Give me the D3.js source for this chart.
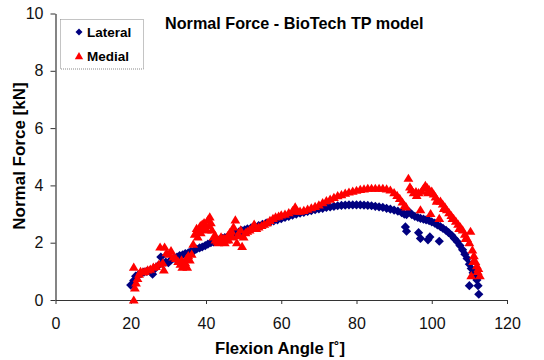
<!doctype html>
<html lang="en">
  <head>
    <meta charset="utf-8">
    <title>Normal Force - BioTech TP model</title>
    <style>
      body { margin: 0; background: #fff; }
      svg { display: block; font-family: "Liberation Sans", Arial, sans-serif; }
      .axis path, .axis line { stroke: #333; }
      .axis text { font-size: 16px; fill: #111; }
    </style>
    <script src="https://cdn.jsdelivr.net/npm/d3@7"></script>
  </head>
  <body>
    <svg id="chart" width="544" height="360"></svg>
    <script>
      // values
      const xTicks = [0, 20, 40, 60, 80, 100, 120];
      const yTicks = [0, 2, 4, 6, 8, 10];
      const seriesNames = ["Lateral", "Medial"];

      const lateralAngle = [20.0, 20.8, 21.3, 22.0, 22.7, 23.5, 24.3, 25.0, 25.8, 26.5, 27.3, 28.0, 28.5, 29.3, 30.0,
        30.7, 31.5, 32.3, 33.0, 33.8, 34.5, 35.3, 36.0, 36.8, 37.5, 38.3, 39.0, 39.8, 40.5, 41.3, 42.0, 42.8,
        43.5, 44.3, 45.0, 45.8, 46.5, 47.3, 48.0, 48.8, 49.5, 50.3, 51.0, 52, 53, 54, 55, 56, 57, 58, 59, 60,
        61, 62, 63, 64, 65, 66, 67, 68, 69, 70, 71, 72, 73, 74, 75, 76, 77, 78, 79, 80, 81, 82, 83, 84, 85, 86,
        87, 88, 89, 90, 91, 92, 92.7, 93.3, 94.0, 94.7, 95.5, 96.3, 97.0, 97.8, 98.5, 99.3, 100.0, 100.8,
        101.5, 102.3, 103.0, 103.8, 104.5, 105.3, 106.0, 106.8, 107.5, 108.2, 108.8, 109.4, 110.0, 110.5,
        111.0, 111.5, 112.0,
        93.0, 93.3, 96.5, 97.0, 99.0, 99.5, 102.0, 110.0, 112.3, 112.5, 111.8];
      const lateralForce = [0.52, 0.68, 0.83, 0.88, 0.92, 0.97, 1.0, 1.02, 0.9, 1.1, 1.2, 1.5, 1.28, 1.32, 1.3,
        1.4, 1.45, 1.5, 1.55, 1.58, 1.62, 1.65, 1.7, 1.72, 1.78, 1.82, 1.85, 1.9, 1.95, 2.0, 2.03, 2.07,
        2.1, 2.15, 2.18, 2.22, 2.26, 2.3, 2.34, 2.38, 2.42, 2.45, 2.48, 2.52, 2.56, 2.6, 2.64, 2.68, 2.72, 2.76, 2.8, 2.84,
        2.88, 2.92, 2.96, 3.0, 3.03, 3.06, 3.09, 3.12, 3.15, 3.18, 3.2, 3.23, 3.25, 3.27, 3.29, 3.3, 3.31, 3.32, 3.32, 3.32, 3.32, 3.31, 3.3, 3.29, 3.27, 3.25,
        3.23, 3.2, 3.17, 3.14, 3.1, 3.05, 3.0, 2.98, 3.08, 2.98, 2.92, 2.88, 2.85, 2.82, 2.8, 2.77, 2.73, 2.68,
        2.62, 2.56, 2.5, 2.43, 2.35, 2.26, 2.15, 2.03, 1.9, 1.75, 1.6, 1.45, 1.25, 1.1,
        0.95, 0.85, 0.7,
        2.55, 2.4, 2.35, 2.15, 2.1, 2.2, 2.05, 0.5, 0.5, 0.2, 1.0];

      const medialAngle = [20.8, 20.8, 21.1, 21.4, 21.8, 22.2, 22.6, 23.2, 23.8, 24.5, 25.2, 26.0, 26.7, 27.5, 27.8,
        28.5, 28.8, 29.0, 29.5, 30.2, 30.7, 31.3, 32.0, 32.6, 33.2, 33.7, 34.3, 34.8, 35.3, 35.7, 36.2, 36.6,
        37.0, 37.5, 38.0, 38.5, 39.0, 39.5, 40.0, 40.5, 41.0, 41.3, 41.6, 42.0, 42.5, 43.0, 43.6, 44.2, 44.8,
        45.3, 45.8, 46.3, 46.8, 47.3, 47.8, 48.2, 48.6, 49.2, 49.6, 50.0, 50.5, 51.0, 51.6, 52.2, 52.8, 53.4,
        54.0, 54.8, 55.5, 56.3, 57.0, 57.8, 58.5, 59.3, 60, 61, 62, 63, 63.7, 64.3, 65, 66, 67, 68, 69, 70,
        71, 72, 73, 74, 75, 76, 77, 78, 79, 80, 81, 82, 83, 84, 85, 86, 87, 88, 89, 90, 90.8, 91.5, 92.2, 92.8,
        93.2, 93.8, 94.2, 94.6, 95.2, 95.8, 96.5, 97.0, 97.3, 97.8, 98.3, 98.8, 99.3, 99.7, 100.0, 100.5,
        101.0, 101.5, 102.0, 102.3, 102.9, 103.5, 104.0, 104.6, 105.2, 105.8, 106.4, 107.0, 107.6, 108.2,
        108.8, 109.4, 110.0, 110.3, 110.5, 110.8, 111.2, 111.6, 112.0, 112.4, 112.8,
        33.5, 34.5, 35.0, 37.8, 38.6, 39.3, 40.2, 40.8, 42.5, 43.3, 44.0, 45.0, 46.0, 47.0, 48.5,
        96.0, 99.0, 101.3, 103.2, 105.5, 107.3, 109.0, 111.0, 112.2];
      const medialForce = [0.0, 1.15, 0.42, 0.6, 0.75, 0.9, 1.0, 0.98, 1.0, 1.05, 1.08, 1.15, 1.17, 1.25, 1.85,
        1.3, 1.05, 1.85, 1.65, 1.6, 1.72, 1.5, 1.45, 1.35, 1.25, 1.15, 1.2, 1.45, 1.55, 1.4, 1.6, 1.95,
        2.3, 2.5, 2.45, 2.6, 2.65, 2.7, 2.6, 2.8, 2.9, 2.7, 2.45, 2.2, 2.1, 2.05, 2.1, 2.05, 2.15,
        2.1, 2.25, 2.35, 2.4, 2.55, 2.8, 2.0, 2.3, 2.45, 1.87, 2.2, 2.35, 2.4, 2.45, 2.5, 2.65, 2.5,
        2.55, 2.6, 2.65, 2.7, 2.78, 2.85, 2.9, 2.93, 2.97, 3.0, 3.05, 3.12, 3.25, 3.1, 3.1, 3.13, 3.17, 3.22, 3.27, 3.32,
        3.4, 3.47, 3.52, 3.58, 3.64, 3.68, 3.73, 3.77, 3.8, 3.83, 3.86, 3.88, 3.9, 3.9, 3.9, 3.9, 3.9, 3.88, 3.84, 3.75, 3.65, 3.55, 3.42, 3.3,
        3.25, 4.25, 3.95, 3.85, 3.75, 3.78, 3.75, 3.15, 3.8, 3.9, 4.0, 3.92, 3.85, 3.02, 3.8, 3.7,
        3.6, 3.5, 2.85, 3.45, 3.35, 3.25, 3.15, 3.05, 2.95, 2.85, 2.75, 2.65, 2.55, 2.45,
        2.3, 2.15, 2.0, 2.4, 0.85, 1.75, 1.55, 1.35, 1.2, 1.1, 0.85,
        1.4, 1.3, 1.15, 2.2, 2.35, 2.5, 2.45, 2.6, 2.25, 2.0, 2.2, 2.0, 2.1, 2.2, 2.25,
        3.65, 3.75, 3.45, 3.2, 2.85, 2.5, 2.15, 1.35, 1.0];

      const lateral = lateralAngle.map((a, i) => ({ angle: a, force: lateralForce[i] }));
      const medial = medialAngle.map((a, i) => ({ angle: a, force: medialForce[i] }));

      const diamond = "M0,-4.6L4.6,0L0,4.6L-4.6,0Z";
      const triangle = "M0,-4.6L4.9,3.6L-4.9,3.6Z";

      const svg = d3.select("#chart");
      const x = d3.scaleLinear().domain([0, 120]).range([55.5, 507]);
      const y = d3.scaleLinear().domain([0, 10]).range([300, 13.5]);

      svg.append("g")
        .attr("class", "axis")
        .attr("transform", "translate(0,300)")
        .call(d3.axisBottom(x).tickValues(xTicks).tickSize(4).tickSizeOuter(0).tickPadding(14))
        .call((g) => g.select(".domain").attr("stroke-width", 1.2));

      svg.append("g")
        .attr("class", "axis")
        .attr("transform", "translate(55.5,0)")
        .call(d3.axisLeft(y).tickValues(yTicks).tickSize(5).tickSizeOuter(0).tickPadding(7))
        .call((g) => g.select(".domain").attr("stroke-width", 1.2));

      svg.append("g")
        .selectAll("path")
        .data(lateral)
        .join("path")
        .attr("d", diamond)
        .attr("transform", (d) => `translate(${x(d.angle)},${y(d.force)})`)
        .attr("fill", "#000080");

      svg.append("g")
        .selectAll("path")
        .data(medial)
        .join("path")
        .attr("d", triangle)
        .attr("transform", (d) => `translate(${x(d.angle)},${y(d.force)})`)
        .attr("fill", "#ff0000");

      svg.append("text")
        .attr("x", 165)
        .attr("y", 29)
        .attr("font-size", 16.2)
        .attr("font-weight", "bold")
        .text("Normal Force - BioTech TP model");

      svg.append("text")
        .attr("x", 280)
        .attr("y", 354)
        .attr("text-anchor", "middle")
        .attr("font-size", 16.7)
        .attr("font-weight", "bold")
        .text("Flexion Angle [˚]");

      svg.append("text")
        .attr("transform", "translate(25,156) rotate(-90)")
        .attr("text-anchor", "middle")
        .attr("font-size", 17)
        .attr("font-weight", "bold")
        .text("Normal Force [kN]");

      // legend
      const legend = svg.append("g");
      legend.append("rect")
        .attr("x", 60.5).attr("y", 19.5).attr("width", 83).attr("height", 49.5)
        .attr("fill", "#fff").attr("stroke", "#888").attr("stroke-dasharray", "1,1");
      legend.selectAll("path")
        .data(seriesNames)
        .join("path")
        .attr("d", (d, i) => (i === 0 ? "M0,-3.5L3.5,0L0,3.5L-3.5,0Z" : "M0,-4L4.2,3.2L-4.2,3.2Z"))
        .attr("transform", (d, i) => `translate(79,${32 + i * 24})`)
        .attr("fill", (d, i) => (i === 0 ? "#000080" : "#ff0000"));
      legend.selectAll("text")
        .data(seriesNames)
        .join("text")
        .attr("x", 87)
        .attr("y", (d, i) => 37 + i * 24)
        .attr("font-size", 13.5)
        .attr("font-weight", "bold")
        .text((d) => d);
    </script>
  </body>
</html>
